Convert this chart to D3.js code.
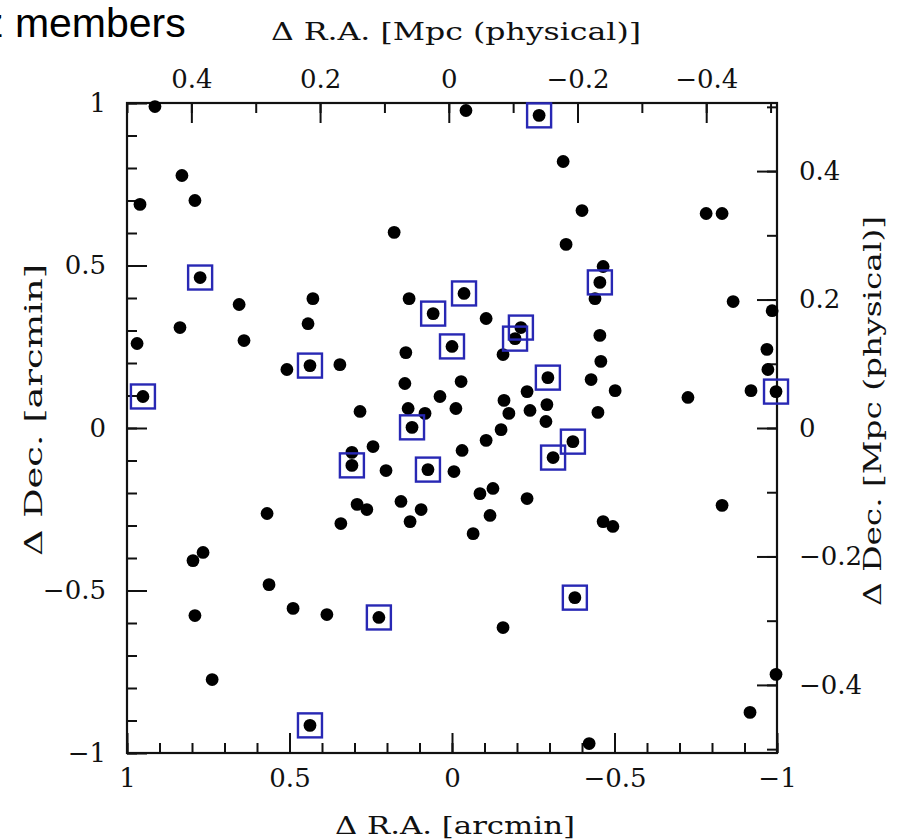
<!DOCTYPE html>
<html>
<head>
<meta charset="utf-8">
<script src="https://cdn.jsdelivr.net/npm/d3@7"></script>
<style>
  html, body { margin: 0; padding: 0; background: #fff; }
  svg { display: block; }
</style>
</head>
<body>
<svg id="chart" width="912" height="840"></svg>
<script>
// ---- DATA ----
const titleText = "z members";
const xTitleBottom = "Δ R.A. [arcmin]";
const xTitleTop = "Δ R.A. [Mpc (physical)]";
const yTitleLeft = "Δ Dec. [arcmin]";
const yTitleRight = "Δ Dec. [Mpc (physical)]";

const arcminMajorTicks = [1, 0.5, 0, -0.5, -1];
const mpcMajorTicks = [0.4, 0.2, 0, -0.2, -0.4];

// offsets of galaxies from the cluster centre (arcmin)
const raOffset = [
  0.914, -0.043, -0.268, -0.342, 0.960, 0.831, 0.791, -0.400, 0.178, -0.351,
  -0.782, -0.831, 0.775, -0.465, -0.455, 0.655, 0.428, 0.132, -0.037, 0.058,
  -0.440, -0.865, -0.985, 0.837, 0.443, -0.105, -0.212, -0.194, -0.455, 0.640,
  0.969, 0.000, -0.157, 0.142, -0.969, 0.508, 0.437, 0.345, -0.458, -0.972,
  -0.920, -0.997, -0.502, -0.726, -0.295, -0.428, 0.951, 0.145, -0.028, -0.231,
  0.037, 0.135, -0.012, -0.160, -0.292, -0.449, 0.283, 0.083, -0.240, -0.175,
  0.123, -0.289, -0.105, -0.151, -0.372, 0.308, 0.243, -0.031, 0.308, 0.203,
  0.074, -0.006, -0.311, -0.086, -0.126, -0.231, 0.292, 0.262, 0.157, 0.095,
  0.129, -0.117, 0.342, -0.065, 0.569, -0.465, -0.495, -0.831, 0.797, 0.766,
  0.563, 0.489, 0.385, 0.791, 0.225, -0.378, -0.157, 0.738, 0.437, -0.917,
  -0.997, -0.422
];
const decOffset = [
  0.989, 0.977, 0.962, 0.820, 0.688, 0.777, 0.700, 0.669, 0.602, 0.565,
  0.660, 0.660, 0.463, 0.497, 0.448, 0.380, 0.398, 0.398, 0.414, 0.352,
  0.398, 0.389, 0.361, 0.309, 0.321, 0.337, 0.309, 0.275, 0.285, 0.269,
  0.260, 0.251, 0.226, 0.232, 0.242, 0.180, 0.192, 0.195, 0.205, 0.180,
  0.115, 0.112, 0.115, 0.094, 0.155, 0.149, 0.097, 0.137, 0.143, 0.112,
  0.097, 0.060, 0.060, 0.085, 0.072, 0.048, 0.051, 0.045, 0.054, 0.045,
  0.002, 0.020, -0.038, -0.005, -0.042, -0.075, -0.057, -0.069, -0.115, -0.131,
  -0.128, -0.134, -0.091, -0.202, -0.186, -0.217, -0.235, -0.251, -0.226, -0.251,
  -0.288, -0.269, -0.294, -0.325, -0.263, -0.288, -0.303, -0.238, -0.408, -0.383,
  -0.482, -0.555, -0.574, -0.577, -0.583, -0.522, -0.614, -0.774, -0.915, -0.875,
  -0.758, -0.971
];
// 1 = spectroscopically confirmed (boxed)
const confirmed = [
  0, 0, 1, 0, 0, 0, 0, 0, 0, 0,
  0, 0, 1, 0, 1, 0, 0, 0, 1, 1,
  0, 0, 0, 0, 0, 0, 1, 1, 0, 0,
  0, 1, 0, 0, 0, 0, 1, 0, 0, 0,
  0, 1, 0, 0, 1, 0, 1, 0, 0, 0,
  0, 0, 0, 0, 0, 0, 0, 0, 0, 0,
  1, 0, 0, 0, 1, 0, 0, 0, 1, 0,
  1, 0, 1, 0, 0, 0, 0, 0, 0, 0,
  0, 0, 0, 0, 0, 0, 0, 0, 0, 0,
  0, 0, 0, 0, 1, 1, 0, 0, 1, 0,
  0, 0
];

// ---- CHART ----
const svg = d3.select("#chart");
const L = 127, R = 777, T = 103, B = 753;
const ink = "#111";
const serif = "'DejaVu Serif', 'Liberation Serif', serif";

const x = d3.scaleLinear().domain([1, -1]).range([L, R]);
const y = d3.scaleLinear().domain([-1, 1]).range([B, T]);
const xMpc = d3.scaleLinear().domain([0.5, -0.51]).range([L, R]);
const yMpc = d3.scaleLinear().domain([-0.506, 0.506]).range([B, T]);

const fmt = d => (d < 0 ? "\u2212" : "") + String(Math.abs(d));
const minorArc = d3.range(-10, 11).map(i => i / 10);
const minorMpc = d3.range(-5, 6).map(i => i / 10);

function styleAxis(g) {
  g.select(".domain").remove();
  g.selectAll(".tick line").attr("stroke", ink).attr("stroke-width", 2);
  g.selectAll(".tick text").attr("fill", ink).attr("font-family", serif).attr("font-size", 26);
}

// minor ticks
svg.append("g").attr("transform", `translate(0,${B})`)
  .call(d3.axisBottom(x).tickValues(minorArc).tickSize(-10).tickFormat(""))
  .call(styleAxis);
svg.append("g").attr("transform", `translate(${L},0)`)
  .call(d3.axisLeft(y).tickValues(minorArc).tickSize(-10).tickFormat(""))
  .call(styleAxis);
svg.append("g").attr("transform", `translate(0,${T})`)
  .call(d3.axisTop(xMpc).tickValues(minorMpc).tickSize(-10).tickFormat(""))
  .call(styleAxis);
svg.append("g").attr("transform", `translate(${R},0)`)
  .call(d3.axisRight(yMpc).tickValues(minorMpc).tickSize(-10).tickFormat(""))
  .call(styleAxis);

// major ticks + labels
svg.append("g").attr("transform", `translate(0,${B})`)
  .call(d3.axisBottom(x).tickValues(arcminMajorTicks).tickSize(-20).tickPadding(16).tickFormat(fmt))
  .call(styleAxis);
svg.append("g").attr("transform", `translate(${L},0)`)
  .call(d3.axisLeft(y).tickValues(arcminMajorTicks).tickSize(-20).tickPadding(21).tickFormat(fmt))
  .call(styleAxis);
svg.append("g").attr("transform", `translate(0,${T})`)
  .call(d3.axisTop(xMpc).tickValues(mpcMajorTicks).tickSize(-20).tickPadding(15).tickFormat(fmt))
  .call(styleAxis);
svg.append("g").attr("transform", `translate(${R},0)`)
  .call(d3.axisRight(yMpc).tickValues(mpcMajorTicks).tickSize(-20).tickPadding(22).tickFormat(fmt))
  .call(styleAxis);

// frame
svg.append("rect").attr("x", L).attr("y", T).attr("width", R - L).attr("height", B - T)
  .attr("fill", "none").attr("stroke", ink).attr("stroke-width", 2.2);

// points
const pts = raOffset.map((r, i) => ({ ra: r, dec: decOffset[i], spec: confirmed[i] }));
svg.append("g").selectAll("circle").data(pts).join("circle")
  .attr("cx", d => x(d.ra)).attr("cy", d => y(d.dec)).attr("r", 6.4)
  .attr("fill", "#000");
const bs = 24;
svg.append("g").selectAll("rect").data(pts.filter(d => d.spec)).join("rect")
  .attr("x", d => x(d.ra) - bs / 2).attr("y", d => y(d.dec) - bs / 2)
  .attr("width", bs).attr("height", bs)
  .attr("fill", "none").attr("stroke", "#2828b4").attr("stroke-width", 2.4);

// titles
svg.append("text").attr("x", -17).attr("y", 37)
  .attr("font-family", "'Liberation Sans', Arial, sans-serif").attr("font-size", 41)
  .attr("fill", "#000").text(titleText);

function axisTitle(txt, xx, yy, rot, len) {
  svg.append("text")
    .attr("transform", `translate(${xx},${yy}) rotate(${rot})`)
    .attr("text-anchor", "middle").attr("font-family", serif).attr("font-size", 24)
    .attr("fill", ink).attr("textLength", len).attr("lengthAdjust", "spacingAndGlyphs")
    .text(txt);
}
axisTitle(xTitleBottom, 455, 834, 0, 240);
axisTitle(xTitleTop, 456, 40, 0, 370);
axisTitle(yTitleLeft, 42, 410, -90, 292);
axisTitle(yTitleRight, 881, 411, -90, 390);
</script>
</body>
</html>
